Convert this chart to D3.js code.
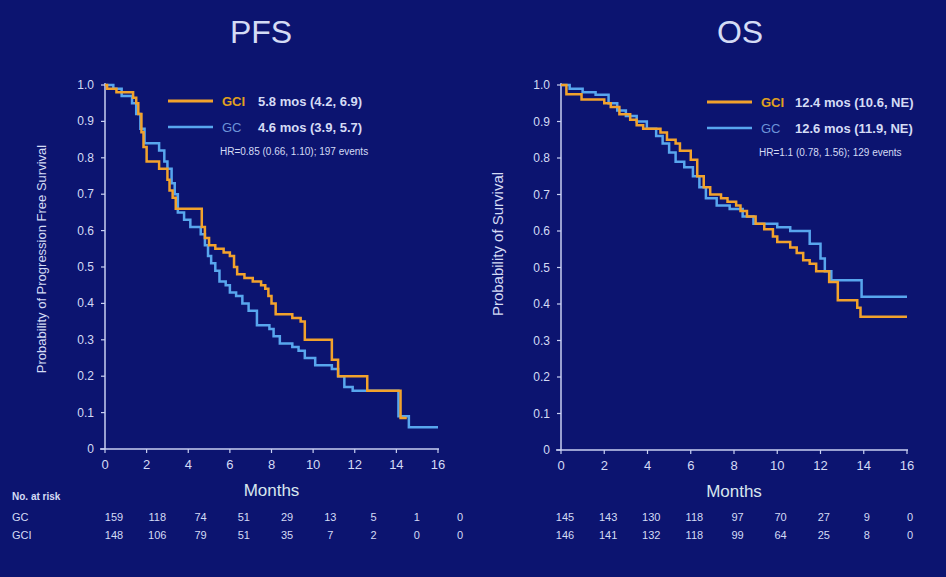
<!DOCTYPE html>
<html>
<head>
<meta charset="utf-8">
<script src="https://cdn.jsdelivr.net/npm/d3@7"></script>
<style>
  html, body { margin: 0; padding: 0; background: #0c1470; }
  svg { display: block; font-family: 'Liberation Sans', Arial, sans-serif; }
</style>
</head>
<body>
<svg id="chart"></svg>
<script>
// KAPLAN-MEIER STEPS [month, probability]
const pfsGCI = [[0,1],[0.1,0.99],[0.55,0.98],[1.35,0.965],[1.5,0.95],[1.6,0.92],[1.75,0.87],[1.85,0.83],[2.0,0.79],[2.6,0.77],[3.0,0.74],[3.1,0.71],[3.25,0.69],[3.4,0.66],[4.65,0.61],[4.8,0.58],[5.0,0.56],[5.3,0.55],[5.7,0.54],[6.0,0.53],[6.2,0.5],[6.35,0.48],[6.7,0.47],[7.1,0.46],[7.5,0.45],[7.7,0.44],[7.85,0.42],[8.0,0.4],[8.2,0.37],[9.0,0.36],[9.4,0.35],[9.6,0.3],[10.9,0.245],[11.2,0.2],[12.6,0.16],[14.2,0.085],[14.5,0.085]]
const pfsGC = [[0,1],[0.4,0.99],[0.8,0.97],[1.3,0.95],[1.5,0.92],[1.7,0.88],[1.9,0.84],[2.6,0.82],[2.85,0.79],[3.0,0.77],[3.2,0.73],[3.35,0.7],[3.5,0.65],[3.8,0.63],[4.1,0.61],[4.6,0.59],[4.8,0.56],[4.95,0.53],[5.1,0.51],[5.3,0.49],[5.5,0.46],[5.8,0.45],[6.0,0.43],[6.3,0.42],[6.6,0.4],[6.9,0.38],[7.3,0.34],[7.9,0.33],[8.1,0.31],[8.4,0.29],[9.0,0.28],[9.3,0.27],[9.6,0.25],[10.1,0.23],[10.9,0.22],[11.2,0.2],[11.5,0.17],[11.9,0.16],[14.1,0.09],[14.6,0.06],[16,0.06]]
const osGCI = [[0,1],[0.25,0.975],[0.95,0.96],[2.0,0.95],[2.3,0.94],[2.7,0.92],[3.2,0.905],[3.5,0.89],[3.8,0.88],[4.6,0.87],[4.9,0.85],[5.3,0.84],[5.5,0.82],[6.0,0.795],[6.3,0.75],[6.6,0.72],[6.9,0.7],[7.4,0.69],[7.7,0.68],[8.1,0.67],[8.3,0.655],[8.6,0.64],[9.0,0.62],[9.4,0.605],[9.8,0.585],[10.0,0.57],[10.6,0.555],[10.9,0.54],[11.2,0.52],[11.5,0.51],[11.8,0.49],[12.4,0.46],[12.8,0.41],[13.7,0.39],[13.85,0.365],[16,0.365]]
const osGC = [[0,1],[0.4,0.99],[1.0,0.98],[1.6,0.973],[2.2,0.95],[2.6,0.93],[3.0,0.915],[3.5,0.9],[3.97,0.88],[4.4,0.86],[4.7,0.84],[5.0,0.815],[5.3,0.79],[5.7,0.775],[6.1,0.75],[6.4,0.72],[6.7,0.69],[7.2,0.67],[7.8,0.66],[8.4,0.64],[8.9,0.62],[10.0,0.61],[10.6,0.6],[11.5,0.565],[12.0,0.525],[12.2,0.49],[12.5,0.465],[13.9,0.42],[16,0.42]]

// AXIS TICKS
const monthTicks = [0, 2, 4, 6, 8, 10, 12, 14, 16]
const probTicks = [0, 0.1, 0.2, 0.3, 0.4, 0.5, 0.6, 0.7, 0.8, 0.9, 1.0]
const probLabels = ['0', '0.1', '0.2', '0.3', '0.4', '0.5', '0.6', '0.7', '0.8', '0.9', '1.0']

// NUMBER AT RISK
const pfsRiskGC = [159, 118, 74, 51, 29, 13, 5, 1, 0]
const pfsRiskGCI = [148, 106, 79, 51, 35, 7, 2, 0, 0]
const osRiskGC = [145, 143, 130, 118, 97, 70, 27, 9, 0]
const osRiskGCI = [146, 141, 132, 118, 99, 64, 25, 8, 0]

const orange = '#f2a22c', blue = '#58a6ee', ink = '#d4dbf5', axisInk = '#c8cff2'

const svg = d3.select('#chart').attr('width', 946).attr('height', 577)

function drawPanel(p) {
  const x = d3.scaleLinear().domain([0, 16]).range([p.left, p.right])
  const y = d3.scaleLinear().domain([0, 1]).range([p.bottom, p.top])

  // TITLE
  svg.append('text')
    .attr('x', p.titleX).attr('y', 43)
    .attr('text-anchor', 'middle')
    .attr('font-size', 32).attr('fill', ink)
    .text(p.title)

  // AXES
  const g = svg.append('g')
  g.append('line')
    .attr('x1', p.left).attr('x2', p.left)
    .attr('y1', y(1) - 2).attr('y2', p.bottom)
    .attr('stroke', axisInk).attr('stroke-width', 1.5)
  g.append('line')
    .attr('x1', p.left - 5).attr('x2', p.right + 1)
    .attr('y1', p.bottom).attr('y2', p.bottom)
    .attr('stroke', axisInk).attr('stroke-width', 1.5)

  g.selectAll('.yt').data(probTicks).enter().append('line')
    .attr('x1', p.left - 4).attr('x2', p.left)
    .attr('y1', d => y(d)).attr('y2', d => y(d))
    .attr('stroke', axisInk).attr('stroke-width', 1.2)
  g.selectAll('.yl').data(probTicks).enter().append('text')
    .attr('x', p.left - 11).attr('y', d => y(d) + 4)
    .attr('text-anchor', 'end')
    .attr('font-size', 12).attr('fill', ink)
    .text((d, i) => probLabels[i])

  g.selectAll('.xt').data(monthTicks).enter().append('line')
    .attr('x1', d => x(d)).attr('x2', d => x(d))
    .attr('y1', p.bottom).attr('y2', p.bottom + 4)
    .attr('stroke', axisInk).attr('stroke-width', 1.2)
  g.selectAll('.xl').data(monthTicks).enter().append('text')
    .attr('x', d => x(d)).attr('y', p.bottom + 20)
    .attr('text-anchor', 'middle')
    .attr('font-size', 13).attr('fill', ink)
    .text(d => d)

  svg.append('text')
    .attr('x', (p.left + p.right) / 2).attr('y', p.bottom + 47)
    .attr('text-anchor', 'middle')
    .attr('font-size', 17).attr('fill', '#d8e6ee')
    .text('Months')

  svg.append('text')
    .attr('transform', `translate(${p.yLabelX}, ${p.yLabelY}) rotate(-90)`)
    .attr('text-anchor', 'middle')
    .attr('font-size', p.yLabelSize).attr('fill', ink)
    .text(p.yLabel)

  // CURVES
  const line = d3.line()
    .x(d => x(d[0]))
    .y(d => y(d[1]))
    .curve(d3.curveStepAfter)

  svg.append('path').datum(p.gc)
    .attr('d', line).attr('fill', 'none')
    .attr('stroke', blue).attr('stroke-width', 2.5)
  svg.append('path').datum(p.gci)
    .attr('d', line).attr('fill', 'none')
    .attr('stroke', orange).attr('stroke-width', 2.5)

  // LEGEND
  const lg = svg.append('g').attr('transform', `translate(${p.legX}, ${p.legY})`)
  lg.append('line').attr('x1', 0).attr('x2', 45).attr('y1', 0).attr('y2', 0)
    .attr('stroke', orange).attr('stroke-width', 3)
  lg.append('line').attr('x1', 0).attr('x2', 45).attr('y1', 26).attr('y2', 26)
    .attr('stroke', blue).attr('stroke-width', 2.5)
  lg.append('text').attr('x', 54).attr('y', 5)
    .attr('font-size', 13).attr('font-weight', 'bold').attr('fill', '#e0a020')
    .text('GCI')
  lg.append('text').attr('x', 54).attr('y', 31)
    .attr('font-size', 13).attr('fill', '#6d93d8')
    .text('GC')
  lg.append('text').attr('x', p.valX).attr('y', 5)
    .attr('font-size', 13).attr('font-weight', 'bold').attr('fill', ink)
    .text(p.gciText)
  lg.append('text').attr('x', p.valX).attr('y', 31)
    .attr('font-size', 13).attr('font-weight', 'bold').attr('fill', ink)
    .text(p.gcText)
  lg.append('text').attr('x', 52).attr('y', 54)
    .attr('font-size', 10).attr('fill', ink)
    .text(p.hrText)

  // NUMBER AT RISK
  const xr = d3.scaleLinear().domain([0, 16]).range(p.riskRange)
  svg.selectAll(null).data(p.riskGC).enter().append('text')
    .attr('x', (d, i) => xr(monthTicks[i])).attr('y', 521)
    .attr('text-anchor', 'middle')
    .attr('font-size', 11).attr('fill', ink)
    .text(d => d)
  svg.selectAll(null).data(p.riskGCI).enter().append('text')
    .attr('x', (d, i) => xr(monthTicks[i])).attr('y', 539)
    .attr('text-anchor', 'middle')
    .attr('font-size', 11).attr('fill', ink)
    .text(d => d)
}

drawPanel({
  title: 'PFS', titleX: 261,
  left: 105, right: 438, top: 85, bottom: 449,
  yLabel: 'Probability of Progression Free Survival', yLabelX: 46, yLabelY: 259, yLabelSize: 13,
  gci: pfsGCI, gc: pfsGC,
  legX: 168, legY: 101, valX: 90,
  gciText: '5.8  mos  (4.2, 6.9)', gcText: '4.6  mos  (3.9, 5.7)',
  hrText: 'HR=0.85 (0.66, 1.10); 197 events',
  riskGC: pfsRiskGC, riskGCI: pfsRiskGCI, riskRange: [114, 460]
})

drawPanel({
  title: 'OS', titleX: 740,
  left: 561, right: 907, top: 85, bottom: 450,
  yLabel: 'Probability of Survival', yLabelX: 503, yLabelY: 244, yLabelSize: 15,
  gci: osGCI, gc: osGC,
  legX: 707, legY: 102, valX: 88,
  gciText: '12.4 mos  (10.6, NE)', gcText: '12.6 mos  (11.9, NE)',
  hrText: 'HR=1.1 (0.78, 1.56); 129 events',
  riskGC: osRiskGC, riskGCI: osRiskGCI, riskRange: [565, 910]
})

// RISK TABLE LABELS
svg.append('text').attr('x', 12).attr('y', 500)
  .attr('font-size', 10).attr('font-weight', 'bold').attr('fill', ink)
  .text('No. at risk')
svg.append('text').attr('x', 12).attr('y', 521)
  .attr('font-size', 11).attr('fill', ink).text('GC')
svg.append('text').attr('x', 12).attr('y', 539)
  .attr('font-size', 11).attr('fill', ink).text('GCI')
</script>
</body>
</html>
